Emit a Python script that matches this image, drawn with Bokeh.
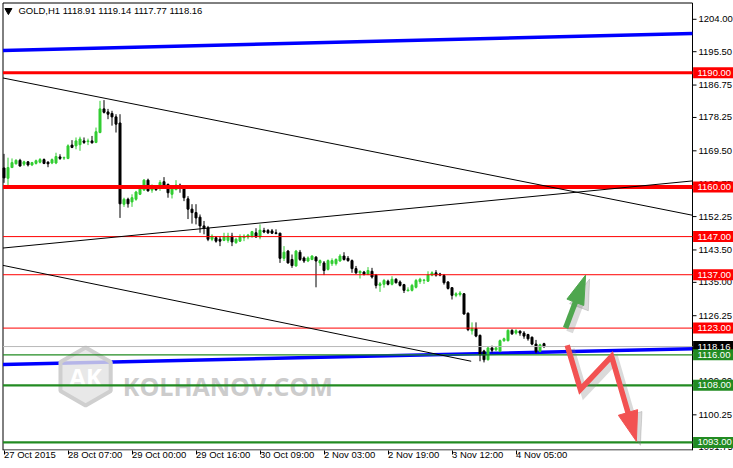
import numpy as np
from bokeh.plotting import figure
from bokeh.models import ColumnDataSource, FixedTicker, Range1d
from bokeh.embed import file_html
from bokeh.resources import INLINE
from bokeh.core.properties import value

# ---------------- data (GOLD, H1) ----------------
opens = [1165.0, 1162.3, 1165.1, 1166.1, 1167.0, 1166.0, 1166.6, 1165.8, 1166.2, 1166.5,
         1167.2, 1166.5, 1166.3, 1166.3, 1167.9, 1167.6, 1167.5, 1171.0, 1170.8, 1171.1,
         1172.1, 1171.9, 1172.1, 1171.7, 1174.3, 1180.5, 1179.7, 1179.3, 1178.4, 1176.8,
         1155.5, 1156.8, 1156.1, 1156.8, 1158.1, 1159.2, 1161.8, 1159.2, 1159.7, 1159.9,
         1161.4, 1160.7, 1158.1, 1159.3, 1160.5, 1159.8, 1156.9, 1154.2, 1153.3, 1152.1,
         1149.8, 1149.3, 1146.3, 1146.7, 1146.3, 1146.0, 1146.0, 1147.1, 1145.4, 1145.8,
         1146.7, 1146.9, 1147.1, 1148.0, 1146.9, 1148.6, 1148.6, 1148.5, 1148.0, 1147.9,
         1141.3, 1143.2, 1141.0, 1139.3, 1142.9, 1141.4, 1140.6, 1141.0, 1141.6, 1140.1,
         1140.1, 1138.4, 1139.9, 1139.9, 1140.6, 1141.9, 1141.3, 1140.7, 1138.6, 1137.5,
         1137.7, 1137.1, 1137.9, 1136.9, 1134.2, 1134.5, 1135.3, 1134.5, 1135.8, 1135.1,
         1134.4, 1132.8, 1132.9, 1133.7, 1135.2, 1135.5, 1135.3, 1136.9, 1137.5, 1137.2,
         1136.8, 1135.1, 1133.6, 1131.6, 1131.8, 1132.0, 1126.9, 1122.3, 1122.9, 1121.1,
         1117.0, 1114.7, 1117.8, 1117.3, 1116.9, 1119.7, 1119.7, 1122.4, 1121.7, 1122.2,
         1121.7, 1121.3, 1120.6, 1118.8, 1116.9, 1118.91]
highs = [1168.7, 1167.7, 1167.5, 1167.3, 1167.4, 1166.9, 1166.8, 1166.6, 1167.2, 1167.6,
         1167.5, 1166.8, 1167.5, 1169.0, 1168.6, 1168.0, 1171.2, 1172.3, 1173.0, 1173.2,
         1173.0, 1172.7, 1173.4, 1175.6, 1182.6, 1182.8, 1180.5, 1180.0, 1179.1, 1179.1,
         1157.2, 1157.2, 1158.1, 1159.0, 1159.9, 1162.1, 1162.2, 1160.7, 1160.5, 1161.8,
         1162.6, 1160.9, 1160.3, 1161.8, 1160.9, 1160.3, 1157.6, 1155.5, 1155.5, 1152.8,
         1151.1, 1149.8, 1147.6, 1147.1, 1147.1, 1148.0, 1148.0, 1148.0, 1146.7, 1147.6,
         1147.6, 1147.7, 1148.5, 1149.2, 1150.2, 1149.3, 1149.0, 1149.0, 1148.9, 1148.0,
         1144.5, 1143.5, 1142.3, 1143.5, 1143.5, 1141.8, 1141.8, 1142.1, 1141.9, 1141.0,
         1140.6, 1141.0, 1141.3, 1141.3, 1142.4, 1142.9, 1141.9, 1141.0, 1139.3, 1138.1,
         1138.0, 1139.0, 1138.8, 1137.2, 1135.1, 1135.9, 1135.7, 1136.6, 1136.1, 1135.5,
         1134.6, 1133.7, 1134.6, 1135.9, 1136.2, 1135.9, 1137.9, 1137.9, 1138.2, 1137.5,
         1137.2, 1135.3, 1133.7, 1132.4, 1132.7, 1132.2, 1127.1, 1124.5, 1124.5, 1121.3,
         1117.3, 1118.2, 1118.4, 1118.2, 1120.0, 1120.5, 1122.7, 1122.7, 1122.7, 1122.4,
         1122.2, 1121.5, 1120.8, 1119.9, 1118.9, 1119.14]
lows = [1161.1, 1160.3, 1165.0, 1165.9, 1165.4, 1165.5, 1165.4, 1165.5, 1165.9, 1166.2,
        1166.0, 1165.2, 1166.0, 1166.0, 1167.1, 1167.1, 1167.3, 1170.2, 1169.9, 1169.5,
        1171.3, 1171.0, 1171.4, 1171.5, 1174.1, 1179.3, 1177.8, 1176.1, 1174.3, 1151.9,
        1154.8, 1154.6, 1154.8, 1156.4, 1157.9, 1159.0, 1158.8, 1158.5, 1159.0, 1159.0,
        1160.3, 1157.2, 1157.0, 1159.2, 1158.5, 1156.3, 1151.6, 1150.4, 1150.2, 1148.0,
        1147.6, 1145.8, 1145.8, 1145.4, 1144.5, 1145.8, 1145.4, 1144.5, 1145.1, 1145.6,
        1145.8, 1146.3, 1146.7, 1146.7, 1146.3, 1147.9, 1147.7, 1147.7, 1147.6, 1140.1,
        1140.6, 1139.9, 1138.8, 1139.1, 1140.6, 1140.1, 1140.3, 1140.8, 1133.7, 1139.3,
        1136.9, 1138.1, 1139.3, 1139.4, 1140.4, 1140.7, 1140.4, 1137.5, 1137.2, 1136.0,
        1136.8, 1136.9, 1136.0, 1133.4, 1132.5, 1133.6, 1134.2, 1134.2, 1134.7, 1133.9,
        1132.2, 1132.6, 1132.6, 1133.4, 1134.6, 1134.6, 1135.1, 1136.6, 1136.5, 1136.6,
        1134.4, 1133.1, 1130.5, 1131.1, 1131.3, 1126.5, 1122.2, 1121.3, 1120.6, 1114.3,
        1114.0, 1114.5, 1116.6, 1116.9, 1116.7, 1119.4, 1119.5, 1121.2, 1121.3, 1121.0,
        1120.2, 1119.7, 1118.5, 1116.4, 1116.7, 1117.77]
closes = [1162.4, 1165.1, 1166.4, 1167.0, 1165.5, 1166.6, 1165.8, 1166.4, 1166.9, 1167.2,
          1166.2, 1166.1, 1167.2, 1168.0, 1167.5, 1167.7, 1170.8, 1170.4, 1172.1, 1172.6,
          1171.7, 1172.1, 1171.6, 1174.5, 1180.5, 1179.6, 1179.1, 1178.4, 1176.5, 1155.6,
          1156.8, 1155.6, 1157.2, 1158.7, 1159.6, 1161.8, 1159.0, 1160.0, 1159.3, 1161.2,
          1160.5, 1158.5, 1159.8, 1160.5, 1159.8, 1157.2, 1154.2, 1153.3, 1151.9, 1149.8,
          1149.2, 1146.3, 1147.1, 1145.8, 1145.8, 1146.9, 1147.1, 1145.6, 1146.3, 1146.9,
          1147.1, 1147.4, 1148.3, 1146.9, 1148.7, 1148.2, 1148.0, 1147.9, 1147.8, 1141.3,
          1142.9, 1140.1, 1139.4, 1143.2, 1141.0, 1140.6, 1141.4, 1141.9, 1140.6, 1140.7,
          1138.1, 1140.7, 1140.7, 1141.0, 1141.9, 1141.0, 1140.7, 1138.6, 1137.5, 1137.9,
          1137.1, 1138.1, 1136.4, 1134.2, 1134.6, 1135.5, 1134.5, 1135.8, 1134.9, 1134.2,
          1132.9, 1133.0, 1134.2, 1135.5, 1135.8, 1135.6, 1136.9, 1137.5, 1136.9, 1136.9,
          1134.9, 1133.4, 1131.6, 1132.0, 1132.2, 1126.7, 1122.6, 1122.9, 1120.9, 1116.0,
          1114.7, 1117.8, 1117.2, 1117.8, 1119.7, 1120.2, 1122.4, 1121.5, 1122.3, 1121.7,
          1120.9, 1120.2, 1118.8, 1116.9, 1118.6, 1118.16]

time_tick_bars = [0, 16, 32, 48, 64, 80, 96, 112, 128]
time_tick_labels = ["27 Oct 2015", "28 Oct 07:00", "29 Oct 00:00", "29 Oct 16:00",
                    "30 Oct 09:00", "2 Nov 03:00", "2 Nov 19:00", "3 Nov 12:00", "4 Nov 05:00"]
price_ticks = [1204.0, 1195.5, 1186.75, 1178.25, 1169.5, 1160.75, 1152.25, 1143.5,
               1135.0, 1126.25, 1117.75, 1109.0, 1100.25, 1091.75]

resistance_levels = [1190.0, 1160.0, 1147.0, 1137.0, 1123.0]
support_levels = [1116.0, 1108.0, 1093.0]
bid_price = 1118.16

# trend lines: (bar0, price0, bar1, price1)
blue_upper = (-0.25, 1195.8, 172.1, 1200.25)
blue_lower = (-0.25, 1113.45, 172.1, 1117.58)
black_down_upper = (-0.25, 1188.6, 172.1, 1152.6)
black_up = (-0.25, 1144.0, 172.1, 1161.6)
black_down_lower = (-0.25, 1139.45, 116.8, 1114.3)

# forecast arrows (bar, price)
green_arrow_x = [140.4, 145.4]
green_arrow_y = [1123.0, 1136.9]
red_path_x = [140.8, 144.1, 151.9, 158.1]
red_path_y = [1118.5, 1106.9, 1115.6, 1093.3]

header_text = "GOLD,H1  1118.91 1119.14 1117.77 1118.16"

# ---------------- figure ----------------
FONT = "Liberation Sans"
W, H = 733, 468
PX_X = 4.0                 # px per bar
PX_Y = 3.804               # px per price unit
X0 = -3.5 / PX_X
X1 = X0 + W / PX_X         # frame also covers the price-scale strip
AX = (692 - 3.5) / PX_X    # price-scale line (bar units)
Y1 = 1190 + 72 / PX_Y
Y0 = Y1 - 449 / PX_Y
LX = (2.5 - 3.5) / PX_X    # left frame line

p = figure(width=W, height=H, x_range=Range1d(X0, X1), y_range=Range1d(Y0, Y1),
           output_backend="svg", toolbar_location=None, y_axis_location=None,
           min_border_left=0, min_border_top=0, min_border_right=0, min_border_bottom=0)
p.background_fill_color = "white"
p.border_fill_color = "white"
p.outline_line_color = None
p.grid.visible = False

# time axis (Bokeh axis, labels to the right of their tick)
xa = p.xaxis[0]
xa.ticker = FixedTicker(ticks=time_tick_bars)
xa.major_label_overrides = {b: t for b, t in zip(time_tick_bars, time_tick_labels)}
xa.major_label_orientation = -1e-4
xa.major_label_text_font = FONT
xa.major_label_text_font_size = "9.5px"
xa.major_label_text_color = "black"
xa.major_label_standoff = 0
xa.major_tick_out = 4
xa.major_tick_in = 0
xa.minor_tick_out = 0
xa.minor_tick_in = 0
xa.axis_line_color = None
xa.major_tick_line_color = "black"

# frame lines
ey = 0.5 / PX_Y
TY = Y1 - 2.5 / PX_Y
p.segment(x0=[LX, LX, AX, LX], y0=[Y0, TY, Y0, Y0 + ey],
          x1=[LX, AX, AX, AX], y1=[TY, TY, TY, Y0 + ey],
          line_color="black", line_width=1)

# blue channel lines (below candles)
def tline(t, color, width):
    p.line(x=[t[0], t[2]], y=[t[1], t[3]], line_color=color, line_width=width)

tline(blue_upper, "#0000ff", 3.5)
tline(blue_lower, "#0000ff", 3.5)

# watermark
p.scatter(x=[20.4], y=[1110.3], marker="hex", size=58, angle=np.pi / 2,
          fill_color="#e2e2e2", line_color="#cfcfcf", line_width=4, fill_alpha=0.8)
p.text(x=[20.4], y=[1110.3], text=["AK"], text_color="white", text_font=value("Open Sans"),
       text_font_style="bold", text_font_size="24px", text_align="center", text_baseline="middle")
p.text(x=[29.7], y=[1107.9], text=["KOLHANOV.COM"], text_color="#cccccc",
       text_font=value("Open Sans"), text_font_style="bold", text_font_size="25px",
       text_align="left", text_baseline="alphabetic")

# candles
bars = np.arange(len(opens))
o = np.array(opens); c = np.array(closes)
up = c >= o
cols = np.where(up, "#32cd32", "#000000")
src = ColumnDataSource(dict(x=bars, top=np.maximum(o, c), bottom=np.minimum(o, c),
                            high=np.array(highs), low=np.array(lows), color=cols))
p.segment(x0="x", y0="low", x1="x", y1="high", line_color="color", line_width=1, source=src)
p.vbar(x="x", width=0.5, top="top", bottom="bottom", fill_color="color",
       line_color="color", line_width=1, source=src)

# horizontal levels (on top of candles)
res_widths = [3, 4, 1, 1, 1]
p.segment(x0=[LX] * 5, x1=[AX] * 5, y0=resistance_levels, y1=resistance_levels,
          line_color="#ff0000", line_width=res_widths)
sup_widths = [1.2, 2.2, 2.2]
p.segment(x0=[LX] * 3, x1=[AX] * 3, y0=support_levels, y1=support_levels,
          line_color="#228b22", line_width=sup_widths)
p.segment(x0=[LX], x1=[AX], y0=[bid_price], y1=[bid_price], line_color="#b8b8b8", line_width=1)

tline(black_down_upper, "black", 1)
tline(black_up, "black", 1)
tline(black_down_lower, "black", 1)

# forecast arrows with shadows
def head(xf, yf, xt, yt, length, half):
    dx = (xt - xf) * PX_X; dy = (yt - yf) * PX_Y
    n = np.hypot(dx, dy); ux, uy = dx / n, dy / n
    bx, by = -ux * length, -uy * length
    px, py = -uy * half, ux * half
    xs = [0, bx + px, bx - px]
    ys = [0, by + py, by - py]
    return ([xt + v / PX_X for v in xs], [yt + v / PX_Y for v in ys],
            (xt + bx * 0.8 / PX_X, yt + by * 0.8 / PX_Y))

def draw_arrow(xs, ys, color, alpha, shaft, length, half):
    hx, hy, base = head(xs[-2], ys[-2], xs[-1], ys[-1], length, half)
    p.line(x=list(xs[:-1]) + [base[0]], y=list(ys[:-1]) + [base[1]], line_color=color,
           line_alpha=alpha, line_width=shaft, line_join="miter")
    p.patch(x=hx, y=hy, fill_color=color, fill_alpha=alpha, line_color=color,
            line_alpha=alpha, line_width=1)

sdx, sdy = 4 / PX_X, -4 / PX_Y
draw_arrow([v + sdx for v in green_arrow_x], [v + sdy for v in green_arrow_y], "#7a7a7a", 0.28, 7, 30, 10)
draw_arrow([v + sdx for v in red_path_x], [v + sdy for v in red_path_y], "#7a7a7a", 0.28, 7, 32, 11)
draw_arrow(red_path_x, red_path_y, "#f25252", 1.0, 5.5, 30, 10)
draw_arrow(green_arrow_x, green_arrow_y, "#4ea64e", 1.0, 5.5, 29, 9)

# header
p.scatter(x=[1.1], y=[1190 + 62 / PX_Y], marker="inverted_triangle", size=7, color="black")
p.text(x=[3.6], y=[1190 + 62 / PX_Y], text=[header_text], text_font=value(FONT),
       text_font_size="9.5px", text_color="black", text_baseline="middle", text_align="left")

# price scale (drawn inside the frame's right strip)
n_t = len(price_ticks)
p.segment(x0=[AX] * n_t, x1=[AX + 4 / PX_X] * n_t, y0=price_ticks, y1=price_ticks,
          line_color="black", line_width=1)
p.text(x=[AX + 6 / PX_X] * n_t, y=price_ticks,
       text=[f"{t:.2f}" for t in price_ticks], text_font=value(FONT), text_font_size="9.5px",
       text_color="black", text_baseline="middle", text_align="left")

lab_levels = resistance_levels + [bid_price] + support_levels
lab_colors = ["#ff0000"] * 5 + ["#000000"] + ["#228b22"] * 3
n_l = len(lab_levels)
p.quad(left=[AX + 0.6 / PX_X] * n_l, right=[X1] * n_l,
       bottom=[lv - 5.5 / PX_Y for lv in lab_levels], top=[lv + 5.5 / PX_Y for lv in lab_levels],
       fill_color=lab_colors, line_color=None)
p.text(x=[AX + 5 / PX_X] * n_l, y=lab_levels, text=[f"{lv:.2f}" for lv in lab_levels],
       text_font=value(FONT), text_font_size="9.5px", text_color="white",
       text_baseline="middle", text_align="left")

open("out.html", "w").write(file_html(p, INLINE))
